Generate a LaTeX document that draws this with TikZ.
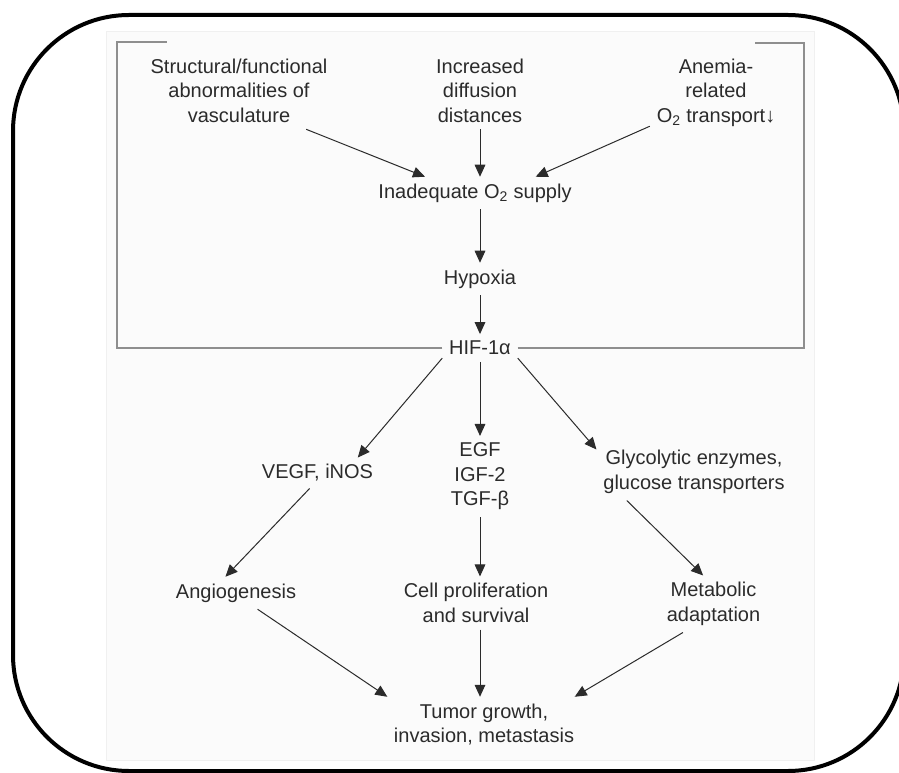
\documentclass[tikz,border=0pt]{standalone}
\usepackage{fontspec}
\setmainfont{Liberation Sans}
\usetikzlibrary{arrows.meta}
\definecolor{inkgray}{HTML}{2B2B2B}
\definecolor{brkgray}{HTML}{8E8E8E}
\definecolor{panelbg}{HTML}{FBFBFB}

\begin{document}
\begin{tikzpicture}[
  x=0.75pt, y=-0.75pt,
  lbl/.style={inner sep=5pt, align=center, text=inkgray,
              font=\fontsize{15}{18.4}\selectfont},
  arr/.style={-{Triangle[length=9pt,width=8pt]}, line width=0.75pt, inkgray},
  brk/.style={draw=brkgray, line width=1pt},
  frm/.style={draw=black, line width=3pt, rounded corners=87pt},
  bkg/.style={fill=panelbg, draw=black!6, line width=0.5pt}
]
  \useasboundingbox (0,0) rectangle (899,773);
  \clip (0,0) rectangle (899,773);
  \path[bkg] (106,31) rectangle (814,760);
  \draw[frm] (13,15) rectangle (904,771);

  % causes of low oxygen
  \node[lbl] (struct) at (239,90.5) {Structural/functional\\abnormalities of\\vasculature};
  \node[lbl] (diff)   at (480,90.5) {Increased\\diffusion\\distances};
  \node[lbl] (anemia) at (716,92.5) {Anemia-\\related\\O\textsubscript{2} transport↓};

  \node[lbl] (supply)  at (475,193) {Inadequate O\textsubscript{2} supply};
  \node[lbl] (hypoxia) at (480,279) {Hypoxia};
  \node[lbl] (hif)     at (480,348) {HIF-1α};

  \draw[arr] (struct.-30) -- (supply.162);
  \draw[arr] (diff) -- (diff |- supply.north);
  \draw[arr] (anemia.207) -- (supply.15);
  \draw[arr] (supply.south -| hypoxia) -- (hypoxia);
  \draw[arr] (hypoxia) -- (hif);

  % bracket
  \draw[brk] (hif.west) -| (117,42) -- (167,42);
  \draw[brk] (hif.east) -| (804,43) -- (755,43);

  % targets of HIF-1alpha
  \node[lbl] (vegf) at (317.5,473) {VEGF, iNOS};
  \node[lbl] (gfs)  at (480,476.5) {EGF\\IGF-2\\TGF-β};
  \node[lbl] (glyc) at (694,472) {Glycolytic enzymes,\\glucose transporters};

  \draw[arr] (hif.195) -- (vegf.21);
  \draw[arr] (hif) -- (gfs);
  \draw[arr] (hif.-15) -- (glyc.167);

  \node[lbl] (angio)  at (236,593) {Angiogenesis};
  \node[lbl] (prolif) at (476,603) {Cell proliferation\\and survival};
  \node[lbl] (metab)  at (713.5,604) {Metabolic\\adaptation};

  \draw[arr] (vegf.243) -- (angio.123);
  \draw[arr] (gfs) -- (gfs |- prolif.north);
  \draw[arr] (glyc.203) -- (metab.110);

  \node[lbl] (tumor) at (484,724.5) {Tumor growth,\\invasion, metastasis};

  \draw[arr] (angio.-37) -- (tumor.164);
  \draw[arr] (prolif.south -| gfs) -- (gfs |- tumor.north);
  \draw[arr] (metab.223) -- (tumor.17);
\end{tikzpicture}
\end{document}
